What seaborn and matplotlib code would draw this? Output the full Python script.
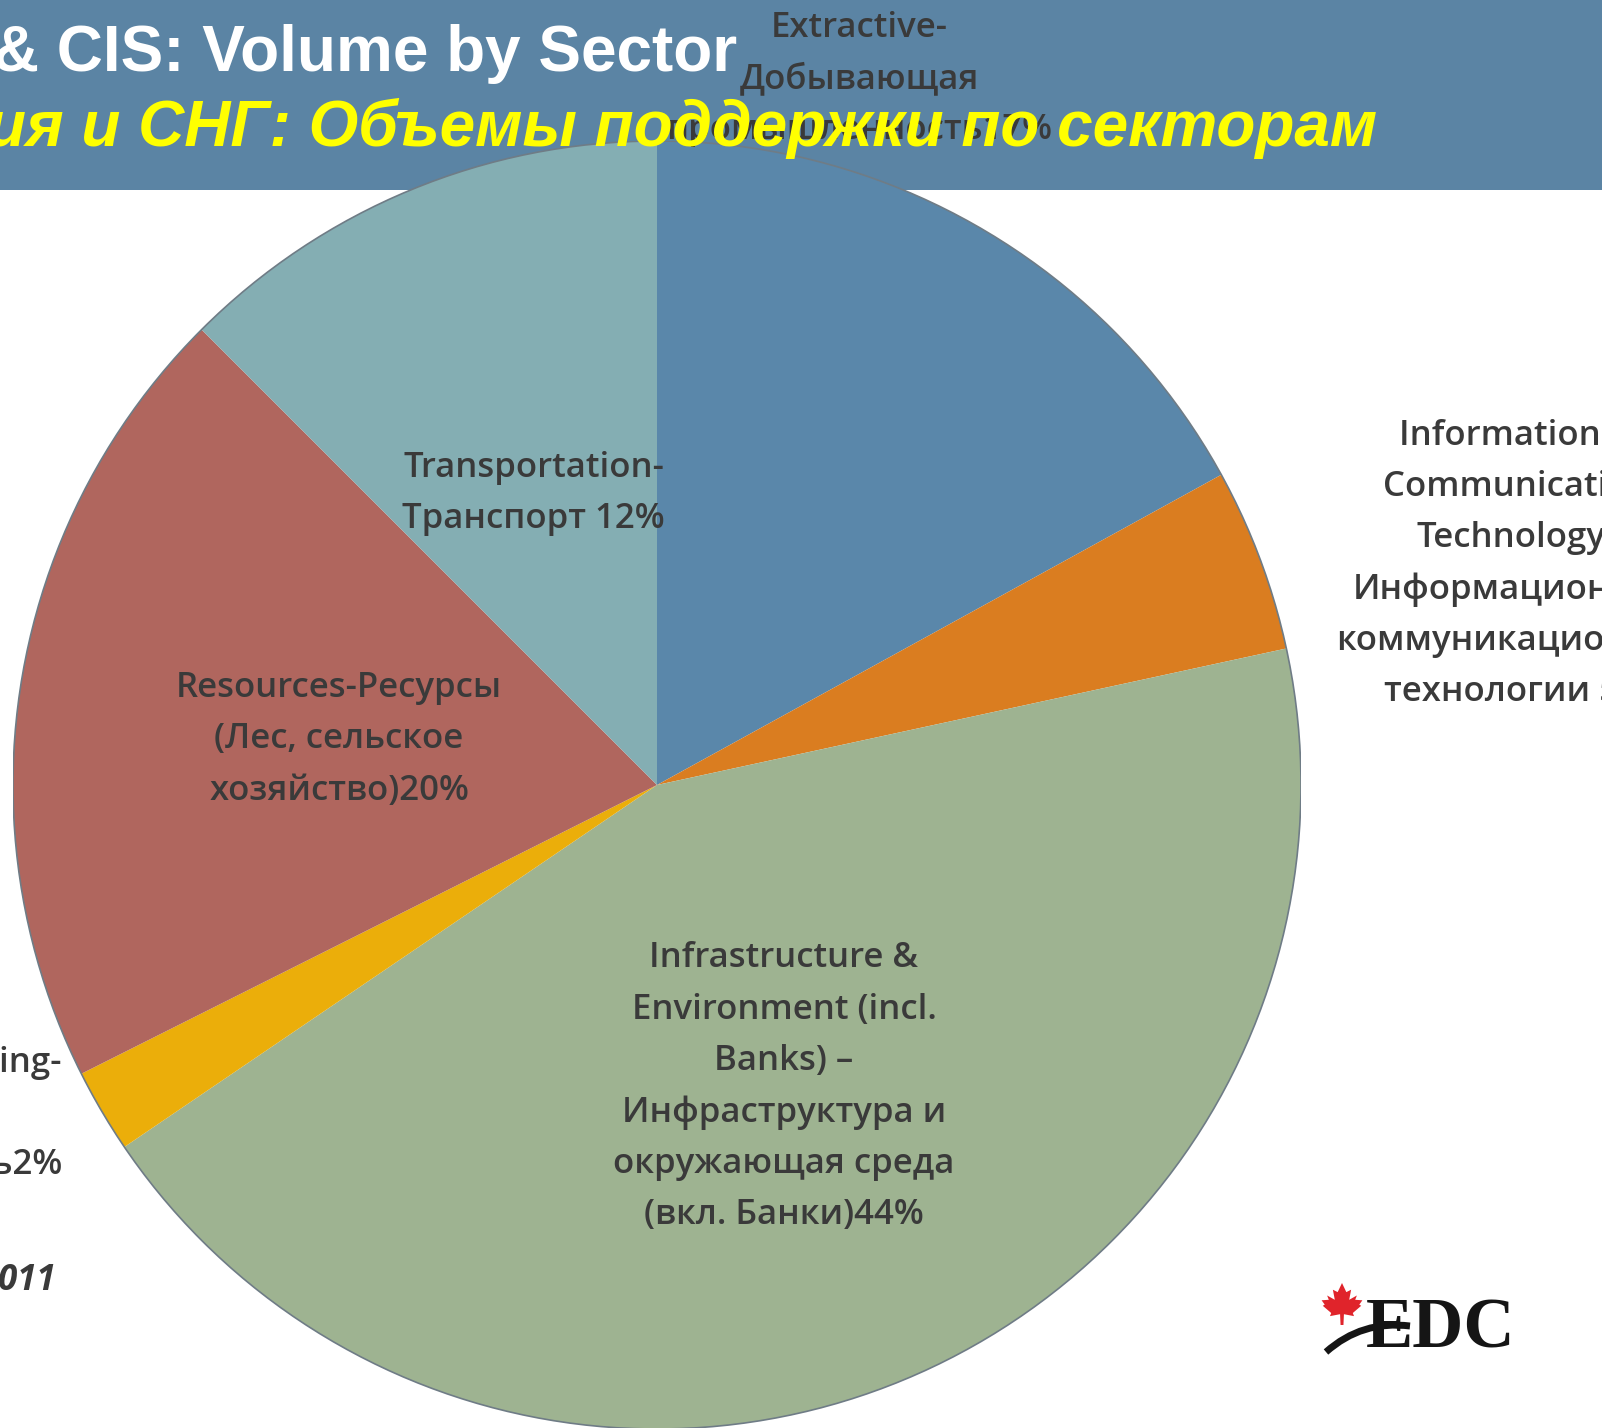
import matplotlib
matplotlib.use("Agg")
import matplotlib.pyplot as plt
import seaborn as sns
import numpy as np
from matplotlib.patches import Rectangle, Circle, Polygon, PathPatch
from matplotlib.path import Path

# data
sectors = ["Extractive", "ICT", "Infrastructure", "Manufacturing", "Resources", "Transportation"]
shares = [17.0, 4.6, 43.9, 2.1, 19.9, 12.5]
labels = [
    "Extractive-\nДобывающая\nпромышленность17%",
    "Information &\nCommunication\nTechnology-\nИнформационные\nкоммуникационные\nтехнологии 5%",
    "Infrastructure &\nEnvironment (incl.\nBanks) –\nИнфраструктура и\nокружающая среда\n(вкл. Банки)44%",
    "Manufacturing-\n\nпромышленность2%",
    "Resources-Ресурсы\n(Лес, сельское\nхозяйство)20%",
    "Transportation-\nТранспорт 12%",
]
colors = ["#5a87aa", "#da7d20", "#9eb391", "#ebae0a", "#b0665e", "#84aeb3"]
title_en = "& CIS: Volume by Sector"
title_ru = "ия и СНГ: Объемы поддержки по секторам"
footnote = "2011"

# labels that sit outside the pie (pie radius units, horizontal anchor)
outside_pos = {
    "Extractive": (0.314, 1.096, "center"),
    "ICT": (1.335, 0.343, "center"),
    "Manufacturing": (-0.924, -0.511, "right"),
}

sns.set_theme(style="white")
plt.rcParams["font.family"] = ["Open Sans", "DejaVu Sans"]

W, H = 1602, 1428
fig = plt.figure(figsize=(W / 100, H / 100), dpi=100)
fig.patch.set_facecolor("white")

def fx(px):
    return px / W

def fy(py):
    return 1 - py / H

# header band
band = Rectangle((0, fy(190)), 1, 190 / H, transform=fig.transFigure,
                 facecolor="#5b84a4", edgecolor="none", zorder=1)
fig.add_artist(band)

# pie axes: centre (657, 785), radius 644 px
cx, cy, R = 657, 785, 644
ax = fig.add_axes([fx(cx - R), fy(cy + R), 2 * R / W, 2 * R / H])
ax.set_zorder(2)
wedges, _ = ax.pie(shares, colors=colors, startangle=90, counterclock=False,
                   radius=1, wedgeprops=dict(edgecolor="none", linewidth=0))
ax.add_patch(Circle((0, 0), 1, fill=False, edgecolor="#6f7c86", linewidth=1.2))
ax.set_xlim(-1, 1)
ax.set_ylim(-1, 1)
ax.set_aspect("equal")
ax.axis("off")

for w, name, lab in zip(wedges, sectors, labels):
    if name in outside_pos:
        x, y, ha = outside_pos[name]
    else:
        mid = np.deg2rad((w.theta1 + w.theta2) / 2)
        x, y, ha = 0.5 * np.cos(mid), 0.5 * np.sin(mid) - 0.009, "center"
    ax.text(x, y, lab, ha=ha, va="center", multialignment=ha,
            fontsize=25, fontweight="semibold", color="#3a3a3a",
            linespacing=1.66, clip_on=False)

# slide title
fig.text(fx(737), fy(71), title_en, ha="right", va="baseline", color="white",
         fontsize=46, fontweight="bold", family=["Liberation Sans", "DejaVu Sans"], zorder=5)
fig.text(fx(1377), fy(146), title_ru, ha="right", va="baseline", color="#ffff00",
         fontsize=46, fontweight="bold", fontstyle="italic",
         family=["Liberation Sans", "DejaVu Sans"], zorder=5)

# footnote fragment
fig.text(fx(56), fy(1290), footnote, ha="right", va="baseline", color="#3a3a3a",
         fontsize=25, fontweight="bold", fontstyle="italic", zorder=5)

# EDC logo
leaf = np.array([
    (0, 1.0), (0.18, 0.62), (0.38, 0.72), (0.3, 0.3), (0.62, 0.48), (0.55, 0.3),
    (0.85, 0.28), (0.72, 0.1), (0.8, 0.05), (0.45, -0.25), (0.5, -0.38), (0.08, -0.3),
    (0.06, -0.75), (-0.06, -0.75), (-0.08, -0.3), (-0.5, -0.38), (-0.45, -0.25),
    (-0.8, 0.05), (-0.72, 0.1), (-0.85, 0.28), (-0.55, 0.3), (-0.62, 0.48),
    (-0.3, 0.3), (-0.38, 0.72), (-0.18, 0.62),
])
lx, ly, ls = 1342, 1307, 24
leaf_fig = np.column_stack([fx(lx + leaf[:, 0] * ls), fy(ly - leaf[:, 1] * ls)])
fig.add_artist(Polygon(leaf_fig, closed=True, transform=fig.transFigure,
                       facecolor="#e0242b", edgecolor="none", zorder=6))
fig.text(fx(1366), fy(1347), "EDC", ha="left", va="baseline", color="#151515",
         fontsize=51, fontweight="bold", family=["Liberation Serif", "DejaVu Serif"], zorder=6)
swoosh = Path([(fx(1326), fy(1352)), (fx(1362), fy(1320)), (fx(1410), fy(1326))],
              [Path.MOVETO, Path.CURVE3, Path.CURVE3])
fig.add_artist(PathPatch(swoosh, transform=fig.transFigure, fill=False,
                         edgecolor="#151515", linewidth=5, zorder=6))

fig.savefig("out.png", dpi=100)
